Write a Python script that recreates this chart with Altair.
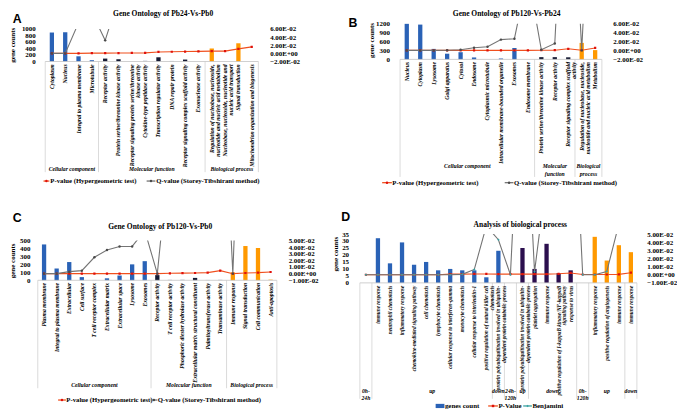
import altair as alt
import pandas as pd

SERIF = "Liberation Serif"
SANS = "Liberation Sans"
SX, SY, SF = 0.98, 0.965, 0.97

# ----------------------------- data -----------------------------
# Panel A
titleA = "Gene Ontology of Pb24-Vs-Pb0"
catsA = ["Cytoplasm", "Nucleus", "Integral to plasma membrane", "Microtubule",
         "Receptor activity", "Protein serine/threonine kinase activity",
         "Receptor signaling protein serine/threonine\nkinase activity",
         "Cytokine-type peptidase activity", "Transcription regulator activity",
         "DNA repair protein", "Receptor signaling complex scaffold activity",
         "Exonuclease activity",
         "Regulation of nucleobase, nucleoside,\nnucleotide and nucleic acid metabolism",
         "Nucleobase, nucleoside, nucleotide and\nnucleic acid transport",
         "Signal transduction", "Mitochondrion organization and biogenesis"]
countsA = [890, 900, 160, 40, 90, 70, 0, 30, 130, 20, 60, 0, 400, 0, 560, 0]
kindA = ["cc", "cc", "cc", "cc", "mf", "mf", "mf", "mf_l", "mf", "mf_l", "mf", "mf",
         "bp", "bp", "bp", "bp"]
pvalA = [0.0, 0.0, 0.0, 0.0005, 0.0005, 0.0008, 0.001, 0.0012, 0.0035, 0.004, 0.0045,
         0.005, 0.0055, 0.0056, 0.011, 0.016]
qvalA = [0.0, 0.0, 0.075, 0.10, 0.032, 0.135, 0.2, 0.22, 0.25, 0.28, 0.3, 0.3, 0.32,
         0.34, 0.36, 0.38]
groupsA = ["Cellular component", "Molecular function", "Biological process"]
groupSizesA = [4, 8, 4]
countTicksA = [0, 200, 400, 600, 800, 1000]
pTicksA = [-0.02, 0.0, 0.02, 0.04, 0.06]

# Panel B
titleB = "Gene Ontology of Pb120-Vs-Pb24"
catsB = ["Nucleus", "Cytoplasm", "Lysosome", "Golgi apparatus", "Cytosol", "Endosome",
         "Cytoplasmic microtubule", "Intracellular membrane-bounded organelle", "Exosomes",
         "Endosome membrane", "Protein serine/threonine kinase activity",
         "Receptor activity", "Receptor signaling complex scaffold\nactivity",
         "Regulation of nucleobase, nucleoside,\nnucleotide and nucleic acid metabolism",
         "Metabolism"]
countsB = [1190, 1160, 350, 190, 240, 65, 0, 30, 380, 0, 75, 75, 70, 550, 310]
kindB = ["cc", "cc", "cc", "cc", "cc", "cc", "cc", "cc", "cc", "cc", "mf", "mf", "mf",
         "bp", "bp"]
pvalB = [0.0, 0.0, 0.0, 0.0, 0.0, 0.0, 0.0, 0.0, 0.0, 0.0, 0.0005, 0.0005, 0.0035,
         0.0005, 0.0055]
qvalB = [0.0, 0.0, 0.0, 0.0005, 0.0015, 0.006, 0.008, 0.024, 0.026, 0.17, 0.0015,
         0.0155, 0.6, 0.0, 0.6]
groupsB = ["Cellular component", "Molecular\nfunction", "Biological\nprocess"]
groupSizesB = [10, 3, 2]
countTicksB = [0, 300, 600, 900, 1200]
pTicksB = [-0.02, 0.0, 0.02, 0.04, 0.06]

# Panel C
titleC = "Gene Ontology of Pb120-Vs-Pb0"
catsC = ["Plasma membrane", "Integral to plasma membrane", "Extracellular", "Cell surface",
         "T cell receptor complex", "Extracellular matrix", "Extracellular space",
         "Lysosome", "Exosomes", "Receptor activity", "T cell receptor activity",
         "Phosphoric diester hydrolase activity",
         "Extracellular matrix structural constituent", "Palmitoyltransferase activity",
         "Transaminase activity", "Immune response", "Signal transduction",
         "Cell communication", "Anti-apoptosis"]
countsC = [450, 148, 229, 40, 5, 25, 60, 200, 240, 65, 8, 10, 30, 5, 8, 100, 430, 405, 15]
kindC = ["cc", "cc", "cc", "cc", "cc_l", "cc", "cc", "cc", "cc", "mf", "mf_l", "mf_l",
         "mf", "mf_l", "mf_l", "bp", "bp", "bp", "bp_l"]
pvalC = [0.0, 0.0, 0.0, 0.0, 0.0, 0.0, 0.0, 0.0, 0.0, 0.0, 0.0005, 0.0008, 0.001,
         0.0015, 0.0045, 0.0, 0.001, 0.0015, 0.0025]
qvalC = [0.0, 0.0, 0.003, 0.0045, 0.0247, 0.0357, 0.041, 0.041, 0.065, 0.0, 0.19, 0.3,
         0.35, 0.4, 0.4, 0.0, 0.5, 0.5, 0.5]
groupsC = ["Cellular component", "Molecular function", "Biological process"]
groupSizesC = [9, 6, 4]
countTicksC = [0, 100, 200, 300, 400, 500]
pTicksC = [-0.01, 0.0, 0.01, 0.02, 0.03, 0.04, 0.05]

# Panel D
titleD = "Analysis of biological process"
catsD = ["", "immune response", "neutrophil chemotaxis", "inflammatory response",
         "chemokine-mediated signaling pathway", "cell chemotaxis",
         "lymphocyte chemotaxis", "cellular response to interferon-gamma",
         "monocyte chemotaxis", "cellular response to interleukin-1",
         "positive regulation of natural killer cell\nchemotaxis",
         "protein polyubiquitination involved in ubiquitin-\ndependent protein catabolic process",
         "",
         "protein polyubiquitination involved in ubiquitin-\ndependent protein catabolic process",
         "platelet aggregation", "immune response",
         "positive regulation of I-kappaB kinase/NF-kappaB\nsignaling pathway",
         "response to virus", "", "inflammatory response",
         "positive regulation of angiogenesis", "immune response", "immune response"]
countsD = [0, 32, 14, 29, 13, 15, 9, 10, 9, 9, 4, 23, 0, 25, 10, 28, 7, 9, 0, 33, 16, 27, 22]
kindD = ["blank", "b", "b", "b", "b", "b", "b", "b", "b", "b", "b", "b", "blank",
         "p", "p", "p", "p", "p", "blank", "o", "o", "o", "o"]
pvalD = [0.0, 0.0, 0.0, 0.0, 0.0, 0.0, 0.0, 0.0008, 0.0008, 0.001, 0.001, 0.0008,
         0.0008, 0.0008, 0.0008, 0.0008, 0.0012, 0.0022, 0.0003, 0.0003, 0.0003,
         0.0005, 0.0025]
benjD = [0.0, 0.0, 0.0, 0.0, 0.0, 0.0, 0.0, 0.0, 0.0005, 0.0065, 0.06, 0.043, 0.0, 0.3,
         0.0036, 0.12, 0.3, 0.3, 0.0, 0.0, 0.004, 0.062, 0.2]
groupsD = ["0h-\n24h", "up", "down", "24h-\n120h", "up", "down", "0h-\n120h", "up", "down"]
groupSizesD = [1, 10, 1, 1, 1, 4, 1, 3, 1]
countTicksD = [0, 5, 10, 15, 20, 25, 30, 35]
pTicksD = [-0.01, 0.0, 0.01, 0.02, 0.03, 0.04, 0.05]

# ----------------------------- styles -----------------------------
PAL_KEYS = ["cc", "cc_l", "mf", "mf_l", "bp", "bp_l", "b", "p", "o", "blank"]
PAL_COLS = ["#2a62b6", "#c7d3ec", "#151a33", "#c5cbd6", "#ff9900", "#ffd99c",
            "#2a62b6", "#2b0f4e", "#ff9900", "#ffffff"]
RED, GRAY, DGRAY, TEAL = "#f0501e", "#747474", "#4a4a4a", "#3aa3a3"
E_EXPR = "replace(replace(format(datum.value, '.2e'), 'e-', 'E-0'), 'e+', 'E+0')"


def one(t):
    return pd.DataFrame({"t": [t]})


def panel(cfg):
    n = len(cfg["cats"])
    band = (cfg["right"] - cfg["left"]) / n
    x_lo = -0.5 - (cfg["left"] - cfg["vleft"]) / band
    x_hi = n - 0.5
    W = (cfg["right"] - cfg["vleft"]) * SX
    H = (cfg["bottom"] - cfg["vtop"]) * SY
    ext = (cfg["bottom"] - cfg["vtop"]) / (cfg["bottom"] - cfg["top"])

    def lx(x):
        return (x - cfg["vleft"]) * SX

    def ly(y):
        return (y - cfg["vtop"]) * SY

    xs = alt.Scale(domain=[x_lo, x_hi], nice=False, zero=False)

    lend = lx(cfg["lab_end"])
    if lend < 0:
        off, lpad = 0, -lend
    else:
        off, lpad = -(lend + 1), 1
    rpad = lx(cfg["rlab"]) - W

    df = pd.DataFrame({"idx": list(range(n)), "cat": cfg["cats"],
                       "count": cfg["counts"], "kind": cfg["kinds"]})
    bars = alt.Chart(df).mark_bar(size=4.4 * SX).encode(
        x=alt.X("idx:Q", scale=xs, axis=None),
        y=alt.Y("count:Q", scale=alt.Scale(domain=[0, cfg["ymax"] * ext], nice=False),
                axis=alt.Axis(values=cfg["cticks"], format="d", title=None, grid=False,
                              domain=False, ticks=False, labelFont=SERIF,
                              labelFontWeight="bold", labelFontSize=7.2 * SF,
                              labelColor="black", labelPadding=lpad, offset=off,
                              labelOverlap=False)),
        color=alt.Color("kind:N", scale=alt.Scale(domain=PAL_KEYS, range=PAL_COLS),
                        legend=None))

    lo, hi = cfg["y2dom"]
    ldf = pd.DataFrame({"idx": list(range(n)) + list(range(n)),
                        "v": cfg["s1"] + cfg["s2"],
                        "s": ["a"] * n + ["b"] * n})
    yenc = alt.Y("v:Q", scale=alt.Scale(domain=[lo, lo + (hi - lo) * ext], nice=False,
                                        zero=False),
                 axis=alt.Axis(orient="right", values=cfg["pticks"], labelExpr=E_EXPR,
                               title=None, grid=False, domain=False, ticks=False,
                               labelFont=SERIF, labelFontWeight="bold",
                               labelFontSize=7.2 * SF, labelColor="black",
                               labelPadding=rpad, labelOverlap=False))
    base = alt.Chart(ldf).encode(x=alt.X("idx:Q", scale=xs, axis=None), y=yenc)
    fa = "datum.s == 'a'"
    fb = "datum.s == 'b'"
    l1 = base.transform_filter(fa).mark_line(color=RED, strokeWidth=1.1, clip=True)
    p1 = base.transform_filter(fa).mark_point(shape="square", filled=True, size=5,
                                               color="#e0100a", opacity=1, clip=True)
    l2 = base.transform_filter(fb).mark_line(color=GRAY, strokeWidth=1.1, clip=True)
    p2 = base.transform_filter(fb).mark_point(shape=cfg["m2"], filled=True, size=6,
                                               color=cfg["mc2"], opacity=1, clip=True)
    lines = alt.layer(l1, p1, l2, p2)

    # white strip above the plot area hides the part of the lines beyond the top value
    mask = alt.Chart(pd.DataFrame({"b0": [-0.5], "b1": [n - 0.5]})).mark_rect(
        color="white").encode(x=alt.X("b0:Q", scale=xs, axis=None), x2="b1:Q",
                              y=alt.value(-1), y2=alt.value(ly(cfg["top"])))

    bnds = [-0.5]
    for s in cfg["gsizes"]:
        bnds.append(bnds[-1] + s)
    centers = [(bnds[i] + bnds[i + 1]) / 2 for i in range(len(cfg["gsizes"]))]

    sep = alt.Chart(pd.DataFrame({"b": bnds})).mark_rule(
        color="#d2d2d2", strokeWidth=0.8).encode(
        x=alt.X("b:Q", scale=xs, axis=None), y=alt.value(H),
        y2=alt.value(ly(cfg["tbot"])))
    topline = alt.Chart(pd.DataFrame({"b0": [-0.5], "b1": [n - 0.5]})).mark_rule(
        color="#c4c4c4", strokeWidth=0.8).encode(
        x=alt.X("b0:Q", scale=xs, axis=None), x2="b1:Q", y=alt.value(H))

    cfs = cfg["catfs"] * SF
    labs = alt.Chart(df).mark_text(
        angle=270, align="right", baseline="middle", font=SERIF, fontStyle="italic",
        fontWeight="bold", fontSize=cfs, lineBreak="\n", lineHeight=cfs * 1.1,
        color="black").encode(
        x=alt.X("idx:Q", scale=xs, axis=None), y=alt.value(ly(cfg["lab_y"])),
        text="cat:N")

    gfs = 5.9 * SF
    grp = alt.Chart(pd.DataFrame({"g": cfg["groups"], "c": centers})).mark_text(
        font=SERIF, fontStyle="italic", fontWeight="bold", fontSize=gfs,
        baseline=cfg["gbase"], align="center", lineBreak="\n", lineHeight=gfs * 1.35,
        color="black").encode(
        x=alt.X("c:Q", scale=xs, axis=None), y=alt.value(ly(cfg["gy"])), text="g:N")

    tx, ty = cfg["title_xy"]
    title = alt.Chart(one(cfg["title"])).mark_text(
        font=SERIF, fontWeight="bold", fontSize=7.8 * SF, align="center",
        baseline="middle", color="black").encode(
        x=alt.value(lx(tx)), y=alt.value(ly(ty)), text="t:N")
    lxy = cfg["letter_xy"]
    letter = alt.Chart(one(cfg["letter"])).mark_text(
        font=SANS, fontWeight="bold", fontSize=12.8 * SF, align="center",
        baseline="middle", color="black").encode(
        x=alt.value(lx(lxy[0])), y=alt.value(ly(lxy[1])), text="t:N")
    yt = cfg["ytitle_xy"]
    ytitle = alt.Chart(one("gene counts")).mark_text(
        font=SERIF, fontWeight="bold", fontSize=7.3 * SF, angle=270, align="center",
        baseline="middle", color="black").encode(
        x=alt.value(lx(yt[0])), y=alt.value(ly(yt[1])), text="t:N")

    legend = []
    lgy = ly(cfg["leg_y"])
    for item in cfg["legend"]:
        kind, x1, x2, tx0, label, col, mcol, shp = item
        if kind == "rect":
            legend.append(alt.Chart(one(label)).mark_rect(color=col).encode(
                x=alt.value(lx(x1)), x2=alt.value(lx(x2)),
                y=alt.value(lgy - 2.2 * SY), y2=alt.value(lgy + 2.2 * SY)))
        else:
            legend.append(alt.Chart(one(label)).mark_rule(color=col, strokeWidth=1.3).encode(
                x=alt.value(lx(x1)), x2=alt.value(lx(x2)), y=alt.value(lgy)))
            legend.append(alt.Chart(one(label)).mark_point(
                color=mcol, filled=True, shape=shp, size=6, opacity=1).encode(
                x=alt.value(lx((x1 + x2) / 2)), y=alt.value(lgy)))
        legend.append(alt.Chart(one(label)).mark_text(
            font=SERIF, fontWeight="bold", fontSize=cfg["legfs"] * SF, align="left",
            baseline="middle", color="black").encode(
            x=alt.value(lx(tx0)), y=alt.value(lgy), text="t:N"))

    return alt.layer(bars, lines, mask, sep, topline, labs, grp, title, letter, ytitle,
                     *legend).resolve_scale(y="independent").properties(width=W, height=H)


ROW1_TOP, ROW2_TOP = 14.7, 234.0
COL1_LEFT, COL2_LEFT = 26.0, 357.0

cfgA = dict(cats=catsA, counts=countsA, kinds=kindA, s1=pvalA, s2=qvalA,
            groups=groupsA, gsizes=groupSizesA, cticks=countTicksA, pticks=pTicksA,
            ymax=1000, y2dom=[-0.02, 0.06], vleft=COL1_LEFT, left=34, right=263,
            vtop=ROW1_TOP, top=20.5, bottom=54.5, lab_end=28.5, rlab=269.5, lab_y=57.5,
            catfs=5.9, gbase="middle", gy=166.7, tbot=170, title=titleA,
            title_xy=(160, 4.5), letter="A", letter_xy=(10, 10.5), ytitle_xy=(5.5, 37.5),
            m2="circle", mc2=DGRAY, leg_y=179.3, legfs=7.0,
            legend=[("line", 37, 43, 44, "P-value (Hypergeometric test)", RED, "#e0100a", "circle"),
                    ("line", 143, 152, 153, "Q-value (Storey-Tibshirani method)", GRAY, DGRAY, "circle")])
cfgB = dict(cats=catsB, counts=countsB, kinds=kindB, s1=pvalB, s2=qvalB,
            groups=groupsB, gsizes=groupSizesB, cticks=countTicksB, pticks=pTicksB,
            ymax=1200, y2dom=[-0.02, 0.06], vleft=COL2_LEFT, left=400, right=616,
            vtop=ROW1_TOP, top=14.7, bottom=52.3, lab_end=392.5, rlab=622, lab_y=55,
            catfs=5.9, gbase="top", gy=160.5, tbot=175, title=titleB, title_xy=(513, 4.5),
            letter="B", letter_xy=(355, 14.5), ytitle_xy=(374.5, 32.5), m2="circle",
            mc2=DGRAY, leg_y=181, legfs=7.0,
            legend=[("line", 385, 395, 395.5, "P-value (Hypergeometric test)", RED, "#e0100a", "circle"),
                    ("line", 511, 520, 520.5, "Q-value (Storey-Tibshirani method)", GRAY, DGRAY, "circle")])
cfgC = dict(cats=catsC, counts=countsC, kinds=kindC, s1=pvalC, s2=qvalC,
            groups=groupsC, gsizes=groupSizesC, cticks=countTicksC, pticks=pTicksC,
            ymax=500, y2dom=[-0.01, 0.05], vleft=COL1_LEFT, left=26, right=282,
            vtop=ROW2_TOP, top=240.7, bottom=282.3, lab_end=23, rlab=288.5, lab_y=285,
            catfs=5.9, gbase="middle", gy=391.7, tbot=395, title=titleC,
            title_xy=(157, 227), letter="C", letter_xy=(10, 217), ytitle_xy=(5.5, 262),
            m2="circle", mc2=DGRAY, leg_y=407.3, legfs=7.0,
            legend=[("line", 52, 60, 60.5, "P-value (Hypergeometric test)", RED, "#e0100a", "circle"),
                    ("line", 147, 154, 154.5, "Q-value (Storey-Tibshirani method)", GRAY, DGRAY, "circle")])
cfgD = dict(cats=catsD, counts=countsD, kinds=kindD, s1=pvalD, s2=benjD,
            groups=groupsD, gsizes=groupSizesD, cticks=countTicksD, pticks=pTicksD,
            ymax=35, y2dom=[-0.01, 0.05], vleft=COL2_LEFT, left=357, right=652,
            vtop=ROW2_TOP, top=234, bottom=285, lab_end=350.5, rlab=657, lab_y=288,
            catfs=5.45, gbase="middle", gy=397.5, tbot=406, title=titleD,
            title_xy=(527, 225), letter="D", letter_xy=(347.5, 216),
            ytitle_xy=(337.5, 255), m2="diamond", mc2=TEAL, leg_y=413.5, legfs=7.2,
            legend=[("rect", 440, 449, 449.5, "genes count", "#2a62b6", None, None),
                    ("line", 494, 504, 504.5, "P-Value", RED, "#e0100a", "square"),
                    ("line", 530, 539, 539.5, "Benjamini", TEAL, TEAL, "diamond")])

A = panel(cfgA)
B = panel(cfgB)
C = panel(cfgC)
D = panel(cfgD)

col1_w = max(263 - COL1_LEFT, 282 - COL1_LEFT)
row1_h = max(54.5 - ROW1_TOP, 52.3 - ROW1_TOP)
chart = alt.concat(
    A, B, C, D, columns=2, bounds="flush",
    spacing={"row": (ROW2_TOP - ROW1_TOP - row1_h) * SY,
             "column": (COL2_LEFT - COL1_LEFT - col1_w) * SX},
    padding=0, background="white").configure_view(stroke=None)

chart.save("out.html", embed_options={"renderer": "svg", "actions": False})
